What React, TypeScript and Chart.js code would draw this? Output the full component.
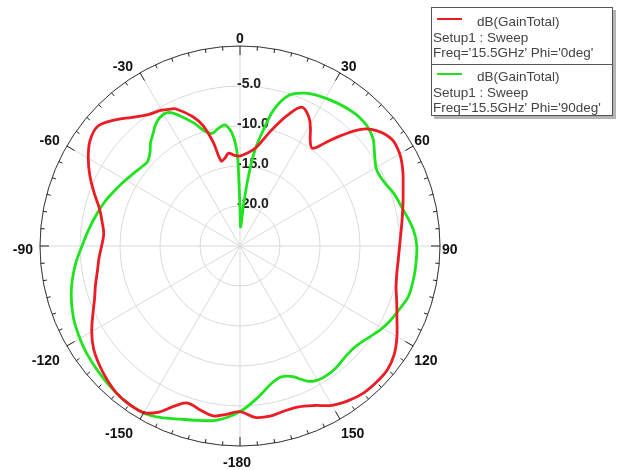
import React, { useEffect, useRef } from 'react';
import { Chart, registerables } from 'chart.js';

Chart.register(...registerables);

// Category axis: one label every half degree, clockwise from the top (0 .. 180, -179.5 .. -0.5)
const STEPS_PER_DEG = 2;
const thetaCategories: number[] = [];
for (let i = 0; i < 360 * STEPS_PER_DEG; i++) {
  const d = i / STEPS_PER_DEG;
  thetaCategories.push(d <= 180 ? d : d - 360);
}

// Radial rings (dB) that carry a text label
const ringTicks = [-5, -10, -15, -20];

// Angular tick labels every 30 degrees
const angleTicks = [0, 30, 60, 90, 120, 150, 180, -150, -120, -90, -60, -30];
const angleTickLabels = ['0', '30', '60', '90', '120', '150', '-180', '-150', '-120', '-90', '-60', '-30'];

// Phi = 0 deg cut: theta (deg) and gain (dB)
const phi0Theta = [
  -180, -175, -171, -166.5, -161.5, -157.5, -154, -150, -145, -140, -135, -130, -125, -120, -115,
  -110, -105, -100, -95, -90, -85, -80, -75, -70, -65, -60, -55, -50, -45, -40, -35, -30, -27, -25,
  -20, -17, -14.5, -12.5, -10, -7, -4, 0, 4, 9, 15, 20, 24, 28, 31, 33.5, 36.5, 39.5, 42, 46, 50, 55,
  60, 65, 70, 75, 80, 85, 90, 95, 100, 105, 110, 115, 120, 125, 130, 135, 140, 145, 150, 155, 160,
  165, 170, 175,
];
const phi0Gain = [
  -4.3, -3.85, -3.5, -3.9, -4.3, -3.3, -1.9, -0.95, -0.85, -1.0, -1.45, -2.0, -2.65, -3.6, -4.7,
  -5.65, -6.3, -6.9, -7.3, -7.7, -7.9, -7.5, -6.8, -5.6, -4.3, -3.1, -2.1, -1.75, -2.75, -4.0, -4.95, -5.4, -5.8, -6.1,
  -7.8, -9.3, -11.6, -14.1, -13.9, -13.3, -13.6, -13.75, -13.4, -12.6, -10.1, -7.6, -6.0, -6.7, -7.9, -9.1, -9.8, -8.3, -6.6, -4.0, -2.6, -1.8,
  -1.95, -2.55, -3.3, -3.9, -4.4, -4.8, -5.05, -5.15, -5.1, -4.8, -4.15, -3.35, -2.35, -1.45, -0.95, -0.9, -1.0, -1.4, -2.0, -3.0, -3.6,
  -3.65, -3.4, -3.5,
];

// Phi = 90 deg cut: theta (deg) and gain (dB)
const phi90Theta = [
  -180, -172.5, -166, -161, -155, -150, -143, -137, -131, -125, -120.5, -115, -111, -106, -101.5,
  -96, -90, -84, -77, -72, -68.5, -62, -55.5, -50, -47.5, -44, -41, -38, -34, -30, -27.5, -25, -20.5,
  -17, -14, -10, -7, -5, -4, -2.5, -1.5, -1, -0.5, 0.5, 2, 5, 7, 9, 11.5, 14, 18, 23, 28.5, 35, 41,
  45.5, 48, 51.5, 56.5, 61, 66.5, 71, 77.5, 84.5, 90, 97.5, 103, 107, 113, 117, 121, 125, 131,
  136.5, 142, 148, 153, 158, 162.5, 167, 173,
];
const phi90Gain = [
  -4.3, -3.05, -2.55, -2.1, -1.35, -0.9, -0.88, -1.1, -1.36, -1.6, -1.86, -2.2, -2.55, -3.05, -3.6,
  -4.35, -5.25, -5.95, -6.7, -7.2, -7.6, -8.3, -8.9, -9.3, -9.35, -8.8, -7.95, -7.3, -6.35, -5.95, -6.2, -7.0, -8.6,
  -10.0, -10.5, -10.0, -9.75, -10.4, -10.9, -12.2, -14.0, -16.7, -18.9, -21.3, -22.6, -19.8, -16.0, -12.7, -10.1, -7.4, -5.2, -4.25, -3.75, -3.35, -3.07,
  -3.1, -3.25, -3.7, -4.8, -5.45, -5.25, -4.7, -4.1, -3.25, -2.9, -2.9, -2.95, -3.05, -3.7, -4.1, -4.6, -5.2, -5.85,
  -5.9, -5.6, -5.55, -6.0, -7.4, -7.85, -7.4, -6.0,
];

const legendTitle = 'dB(GainTotal)';
const legendSetup = 'Setup1 : Sweep';
const phi0Label = "Freq='15.5GHz' Phi='0deg'";
const phi90Label = "Freq='15.5GHz' Phi='90deg'";

const RED = '#ec1c24';
const GREEN = '#1ee31e';
const GRID = '#d9d9d9';
const FONT = '"Liberation Sans", Arial, Helvetica, sans-serif';

function toSeries(theta: number[], gain: number[]): (number | null)[] {
  const out: (number | null)[] = new Array(thetaCategories.length).fill(null);
  theta.forEach((t, k) => {
    const idx = Math.round((((t % 360) + 360) % 360) * STEPS_PER_DEG) % out.length;
    out[idx] = gain[k];
  });
  return out;
}

// Outer frame, degree ticks, angle labels and ring labels
const polarFrame = {
  id: 'polarFrame',
  beforeDatasetsDraw(chart: any) {
    const s = chart.scales.r;
    const ctx = chart.ctx as CanvasRenderingContext2D;
    ctx.save();
    ctx.fillStyle = '#222';
    ctx.font = `bold 14px ${FONT}`;
    ctx.textAlign = 'left';
    ctx.textBaseline = 'middle';
    ringTicks.forEach((v) => {
      const r = s.getDistanceFromCenterForValue(v);
      ctx.fillText(v.toFixed(1), s.xCenter - 3, s.yCenter - r - 2);
    });
    ctx.restore();
  },
  afterDatasetsDraw(chart: any) {
    const s = chart.scales.r;
    const ctx = chart.ctx as CanvasRenderingContext2D;
    const cx = s.xCenter;
    const cy = s.yCenter;
    const R = s.getDistanceFromCenterForValue(s.max);
    ctx.save();
    ctx.strokeStyle = '#3a3a3a';
    ctx.lineWidth = 1;
    ctx.beginPath();
    ctx.arc(cx, cy, R, 0, Math.PI * 2);
    ctx.stroke();
    ctx.strokeStyle = '#222';
    for (let a = 0; a < 360; a += 5) {
      const rad = (a * Math.PI) / 180;
      const len = a % 30 === 0 ? 9 : 4;
      const sx = Math.sin(rad);
      const sy = -Math.cos(rad);
      ctx.beginPath();
      ctx.moveTo(cx + sx * R, cy + sy * R);
      ctx.lineTo(cx + sx * (R - len), cy + sy * (R - len));
      ctx.stroke();
    }
    ctx.fillStyle = '#111';
    ctx.font = `bold 14px ${FONT}`;
    ctx.textBaseline = 'alphabetic';
    angleTicks.forEach((a, k) => {
      const rad = (a * Math.PI) / 180;
      const px = cx + Math.sin(rad) * R;
      const py = cy - Math.cos(rad) * R;
      let x = px;
      let y = py;
      if (a === 0) {
        ctx.textAlign = 'center';
        y = py - 3;
      } else if (a === 180) {
        ctx.textAlign = 'center';
        x = px - 3;
        y = py + 21;
      } else {
        if (a > 0) {
          ctx.textAlign = 'left';
          x = px + (a === 90 ? 2 : 1);
        } else {
          ctx.textAlign = 'right';
          x = px - 7;
        }
        const abs = Math.abs(a);
        y = abs < 90 ? py - 1.5 : abs === 90 ? py + 8 : py + 19;
      }
      ctx.fillText(angleTickLabels[k], x, y);
    });
    ctx.restore();
  },
};

// Boxed legend in the top-right corner
const legendBox = {
  id: 'legendBox',
  afterDraw(chart: any) {
    const ctx = chart.ctx as CanvasRenderingContext2D;
    const x0 = 431;
    const y0 = 7;
    const w = 182;
    const h = 109;
    ctx.save();
    ctx.fillStyle = '#b4b4b4';
    ctx.fillRect(x0 + 3, y0 + 3, w, h);
    ctx.fillStyle = '#ffffff';
    ctx.fillRect(x0, y0, w, h);
    ctx.strokeStyle = '#555';
    ctx.lineWidth = 1;
    ctx.strokeRect(x0 + 0.5, y0 + 0.5, w - 1, h - 1);
    ctx.beginPath();
    ctx.moveTo(x0, y0 + 57.5);
    ctx.lineTo(x0 + w, y0 + 57.5);
    ctx.stroke();

    const ds = chart.data.datasets;
    const groups = [
      { color: ds[0].borderColor, label: phi0Label, top: y0 },
      { color: ds[1].borderColor, label: phi90Label, top: y0 + 55 },
    ];
    ctx.font = `13.5px ${FONT}`;
    ctx.textBaseline = 'middle';
    ctx.textAlign = 'left';
    groups.forEach((g) => {
      ctx.strokeStyle = g.color;
      ctx.lineWidth = 2;
      ctx.beginPath();
      ctx.moveTo(437, g.top + 12);
      ctx.lineTo(462, g.top + 12);
      ctx.stroke();
      ctx.fillStyle = '#444';
      ctx.fillText(legendTitle, 477, g.top + 15);
      ctx.fillText(legendSetup, 433, g.top + 31);
      ctx.fillText(g.label, 433, g.top + 46);
    });
    ctx.restore();
  },
};

export default function App() {
  const canvasRef = useRef<HTMLCanvasElement | null>(null);

  useEffect(() => {
    const canvas = canvasRef.current;
    if (!canvas) return;
    const chart = new Chart(canvas, {
      type: 'radar',
      data: {
        labels: thetaCategories.map((t) => String(t)),
        datasets: [
          {
            label: phi0Label,
            data: toSeries(phi0Theta, phi0Gain),
            borderColor: RED,
            backgroundColor: 'rgba(0,0,0,0)',
            borderWidth: 2.8,
            pointRadius: 0,
            fill: false,
            tension: 0.35,
            spanGaps: true,
          },
          {
            label: phi90Label,
            data: toSeries(phi90Theta, phi90Gain),
            borderColor: GREEN,
            backgroundColor: 'rgba(0,0,0,0)',
            borderWidth: 2.8,
            pointRadius: 0,
            fill: false,
            tension: 0.35,
            spanGaps: true,
          },
        ],
      },
      options: {
        responsive: false,
        animation: false,
        events: [],
        plugins: { legend: { display: false }, tooltip: { enabled: false } },
        elements: { line: { borderJoinStyle: 'round', borderCapStyle: 'round' } },
        scales: {
          r: {
            min: -25,
            max: 0,
            startAngle: 0,
            ticks: { display: false, stepSize: 5 },
            grid: { circular: true, color: GRID, lineWidth: 1 },
            angleLines: {
              display: true,
              color: GRID,
              lineWidth: (ctx: any) => (ctx.index % (30 * STEPS_PER_DEG) === 0 ? 1 : 0),
            },
            pointLabels: { display: false },
            afterFit: (scale: any) => {
              scale.xCenter = 240;
              scale.yCenter = 246;
              scale.drawingArea = 200;
            },
          },
        },
      } as any,
      plugins: [polarFrame, legendBox],
    });
    return () => chart.destroy();
  }, []);

  return (
    <div style={{ position: 'fixed', left: 0, top: 0, width: 619, height: 470, background: '#fff' }}>
      <canvas ref={canvasRef} width={619} height={470} style={{ display: 'block' }} />
    </div>
  );
}
